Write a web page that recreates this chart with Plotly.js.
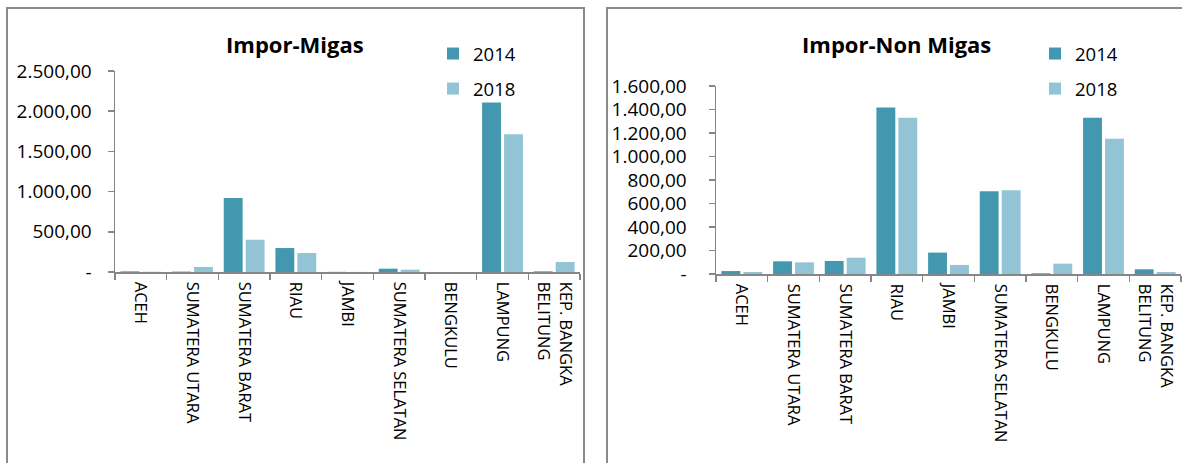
<!DOCTYPE html>
<html>
<head>
<meta charset="utf-8">
<script src="https://cdn.plot.ly/plotly-3.0.1.min.js"></script>
<style>html,body{margin:0;padding:0;background:#fff;}#chart{width:1182px;height:463px;}</style>
</head>
<body>
<div id="chart"></div>
<script>
const provinces = ["ACEH","SUMATERA UTARA","SUMATERA BARAT","RIAU","JAMBI","SUMATERA SELATAN","BENGKULU","LAMPUNG","KEP. BANGKA<br>BELITUNG"];
const migas2014 = [8, 5, 919, 298, 2, 41, 0, 2107, 8];
const migas2018 = [3, 63, 401, 236, 1, 29, 0, 1714, 124];
const nonMigas2014 = [25, 108, 111, 1416, 182, 704, 6, 1330, 40];
const nonMigas2018 = [17, 99, 139, 1330, 77, 712, 88, 1152, 17];
const migasTickVals = [0, 500, 1000, 1500, 2000, 2500];
const migasTickText = ["-", "500,00", "1.000,00", "1.500,00", "2.000,00", "2.500,00"];
const nonMigasTickVals = [0, 200, 400, 600, 800, 1000, 1200, 1400, 1600];
const nonMigasTickText = ["-", "200,00", "400,00", "600,00", "800,00", "1.000,00", "1.200,00", "1.400,00", "1.600,00"];

const C14 = "#4398B0", C18 = "#93C4D5";
const W = 1182, H = 463;
const px = v => v / W, py = v => 1 - v / H;
const FONT = "Open Sans, sans-serif";

const traces = [
  {type:"bar", name:"2014", x:provinces, y:migas2014, marker:{color:C14}, xaxis:"x", yaxis:"y", legend:"legend", legendgroup:"a"},
  {type:"bar", name:"2018", x:provinces, y:migas2018, marker:{color:C18}, xaxis:"x", yaxis:"y", legend:"legend", legendgroup:"b"},
  {type:"bar", name:"2014", x:provinces, y:nonMigas2014, marker:{color:C14}, xaxis:"x2", yaxis:"y2", legend:"legend2", legendgroup:"c"},
  {type:"bar", name:"2018", x:provinces, y:nonMigas2018, marker:{color:C18}, xaxis:"x2", yaxis:"y2", legend:"legend2", legendgroup:"d"}
];

const xCommon = {type:"category", showline:true, linecolor:"#868686", linewidth:1.5, ticks:"outside", tickson:"boundaries", ticklen:6, tickcolor:"#868686", tickwidth:1.5, tickangle:90, tickfont:{family:FONT, size:16.5, color:"#000"}, ticklabelstandoff:5, showgrid:false, zeroline:false, fixedrange:true};
const yCommon = {showline:true, linecolor:"#868686", linewidth:1.5, ticks:"outside", ticklen:6, tickcolor:"#868686", tickwidth:1.5, tickfont:{family:FONT, size:19, color:"#000"}, showgrid:false, zeroline:false, tickmode:"array"};

const legendCommon = {orientation:"v", font:{family:FONT, size:18.5, color:"#000"}, bgcolor:"rgba(0,0,0,0)", traceorder:"grouped", tracegroupgap:8, itemwidth:30, xanchor:"left", yanchor:"top"};

const layout = {
  width:W, height:H,
  margin:{l:0, r:0, t:0, b:0},
  paper_bgcolor:"#fff", plot_bgcolor:"#fff",
  barmode:"group", bargap:0.15, bargroupgap:0.14,
  xaxis: Object.assign({}, xCommon, {domain:[px(115), px(580)], anchor:"y"}),
  yaxis: Object.assign({}, yCommon, {domain:[py(272), py(71)], range:[0, 2500], tickvals:migasTickVals, ticktext:migasTickText, anchor:"x", ticklabelstandoff:12}),
  xaxis2: Object.assign({}, xCommon, {domain:[px(716), px(1181)], anchor:"y2"}),
  yaxis2: Object.assign({}, yCommon, {domain:[py(274), py(86)], range:[0, 1600], tickvals:nonMigasTickVals, ticktext:nonMigasTickText, anchor:"x2", ticklabelstandoff:18}),
  legend: Object.assign({}, legendCommon, {x:px(433), y:py(35)}),
  legend2: Object.assign({}, legendCommon, {x:px(1035), y:py(35)}),
  annotations:[
    {text:"<b>Impor-Migas</b>", xref:"paper", yref:"paper", x:px(295), y:py(44), xanchor:"center", yanchor:"middle", showarrow:false, font:{family:FONT, size:22, color:"#000"}},
    {text:"<b>Impor-Non Migas</b>", xref:"paper", yref:"paper", x:px(896), y:py(44), xanchor:"center", yanchor:"middle", showarrow:false, font:{family:FONT, size:22, color:"#000"}}
  ],
  shapes:[
    {type:"rect", xref:"paper", yref:"paper", x0:px(7), x1:px(584), y0:-0.2, y1:py(8), line:{color:"#8a8a8a", width:2}, layer:"below"},
    {type:"rect", xref:"paper", yref:"paper", x0:px(607), x1:1.2, y0:-0.2, y1:py(8), line:{color:"#8a8a8a", width:2}, layer:"below"}
  ]
};

Plotly.newPlot("chart", traces, layout, {staticPlot:true, displayModeBar:false});
</script>
</body>
</html>
